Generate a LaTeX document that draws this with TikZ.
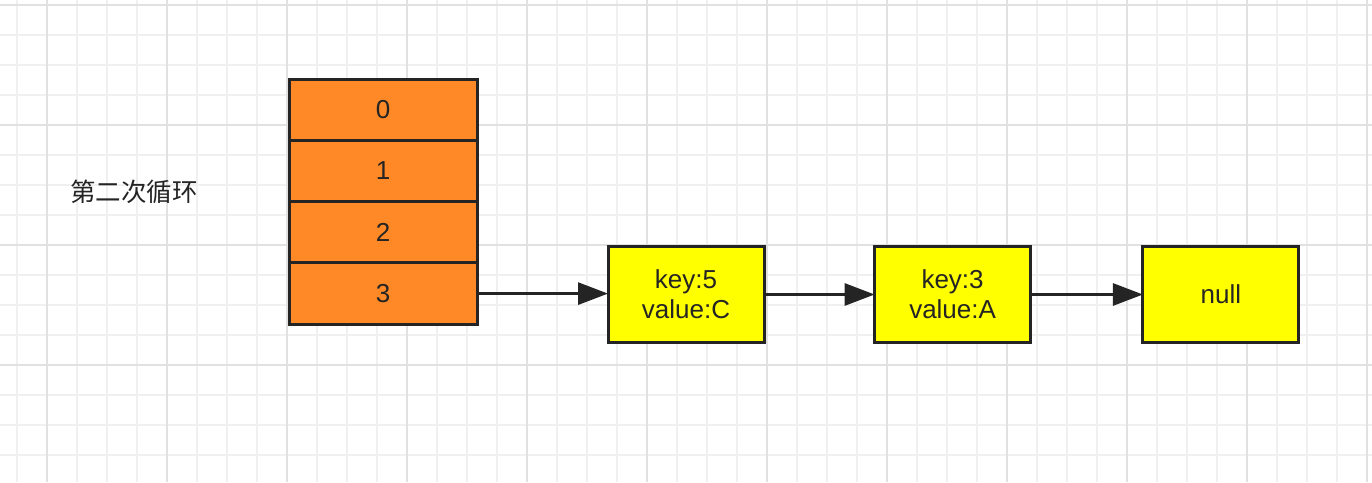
\documentclass[tikz,border=0pt]{standalone}
\usepackage{fontspec}
\setmainfont{Liberation Sans}
\newfontfamily\cjk{Noto Sans CJK SC}
\usetikzlibrary{arrows.meta,positioning}

\definecolor{bucketorange}{RGB}{255,137,39}
\definecolor{entryyellow}{RGB}{255,255,0}
\definecolor{inkgray}{RGB}{36,36,36}
\definecolor{gridminor}{RGB}{240,240,240}
\definecolor{gridmajor}{RGB}{225,225,225}

\tikzset{
  bucket/.style={draw=inkgray, line width=3pt, fill=bucketorange,
    minimum width=188pt, minimum height=61.3pt, inner sep=0pt,
    outer sep=0pt, text=inkgray, font=\fontsize{26}{30}\selectfont},
  entry/.style={draw=inkgray, line width=3pt, fill=entryyellow,
    minimum width=156pt, minimum height=96pt, inner sep=0pt,
    outer sep=0pt, align=center, text=inkgray,
    font=\fontsize{26}{30}\selectfont},
  link/.style={draw=inkgray, line width=3pt,
    -{Triangle[length=30pt,width=22pt]}},
}

\begin{document}
\begin{tikzpicture}[x=1pt, y=-1pt]

\useasboundingbox (0,0) rectangle (1372,482);

%% background grid
\foreach \gx in {17,47,...,1367}
  \draw[gridminor, line width=1.5pt] (\gx,0) -- (\gx,482);
\foreach \gy in {5,35,...,475}
  \draw[gridminor, line width=1.5pt] (0,\gy) -- (1372,\gy);
\foreach \gx in {47,167,...,1367}
  \draw[gridmajor, line width=1.5pt] (\gx,0) -- (\gx,482);
\foreach \gy in {5,125,...,365}
  \draw[gridmajor, line width=1.5pt] (0,\gy) -- (1372,\gy);

\node[text=inkgray, font=\cjk\fontsize{25.5}{30}\selectfont]
  (round) at (134,192) {第二次循环};

%% table
\node[bucket] (b0) at (383,109.7) {0};
\node[bucket, below=0pt of b0] (b1) {1};
\node[bucket, below=0pt of b1] (b2) {2};
\node[bucket, below=0pt of b2] (b3) {3};

%% chain
\node[entry] (e1) at (686,294.5) {key:5\\value:C};
\node[entry, right=110.6pt of e1] (e2) {key:3\\value:A};
\node[entry, right=112.3pt of e2] (e3) {null};

\draw[link] (b3.east) -- (b3.east -| e1.west);
\draw[link] (e1) -- (e2);
\draw[link] (e2) -- (e3);

\end{tikzpicture}
\end{document}
